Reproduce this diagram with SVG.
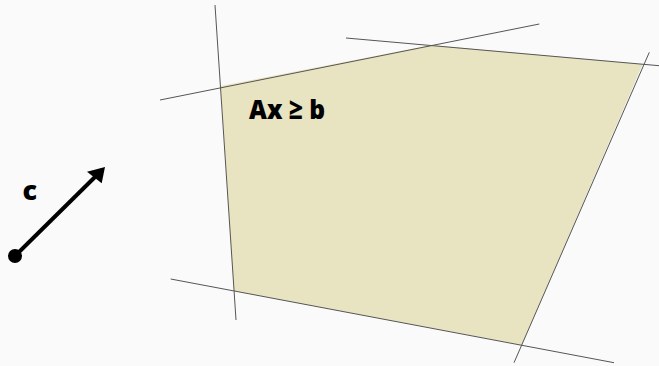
<svg xmlns="http://www.w3.org/2000/svg" width="659" height="366" viewBox="0 0 659 366">
<style>
.ln{stroke:#555;stroke-width:1;fill:none}
.lbl{font-family:"Open Sans","Noto Sans",sans-serif;font-weight:800;fill:#000}
</style>
<rect width="659" height="366" fill="#fafafa"/>
<g id="region">
<polygon points="220.7,86 431.7,45 642.7,64.3 521.7,345 234,291" fill="#e8e3c0"/>
<text class="lbl" x="249" y="118.5" font-size="27" textLength="76" lengthAdjust="spacingAndGlyphs">Ax ≥ b</text>
</g>
<g id="constraints">
<line class="ln" x1="215" y1="5" x2="236" y2="320"/>
<line class="ln" x1="160" y1="100" x2="539.3" y2="24"/>
<line class="ln" x1="346" y1="38" x2="659" y2="65.7"/>
<line class="ln" x1="649.3" y1="52.3" x2="514" y2="362.7"/>
<line class="ln" x1="170.7" y1="279" x2="614" y2="362.7"/>
</g>
<g id="objective">
<circle cx="15" cy="256" r="7" fill="#000"/>
<line x1="15" y1="256" x2="96" y2="176" stroke="#000" stroke-width="4"/>
<polygon points="105,167 87,171.7 101.7,183.3" fill="#000"/>
<text class="lbl" x="22.5" y="200" font-size="27">c</text>
</g>
</svg>
